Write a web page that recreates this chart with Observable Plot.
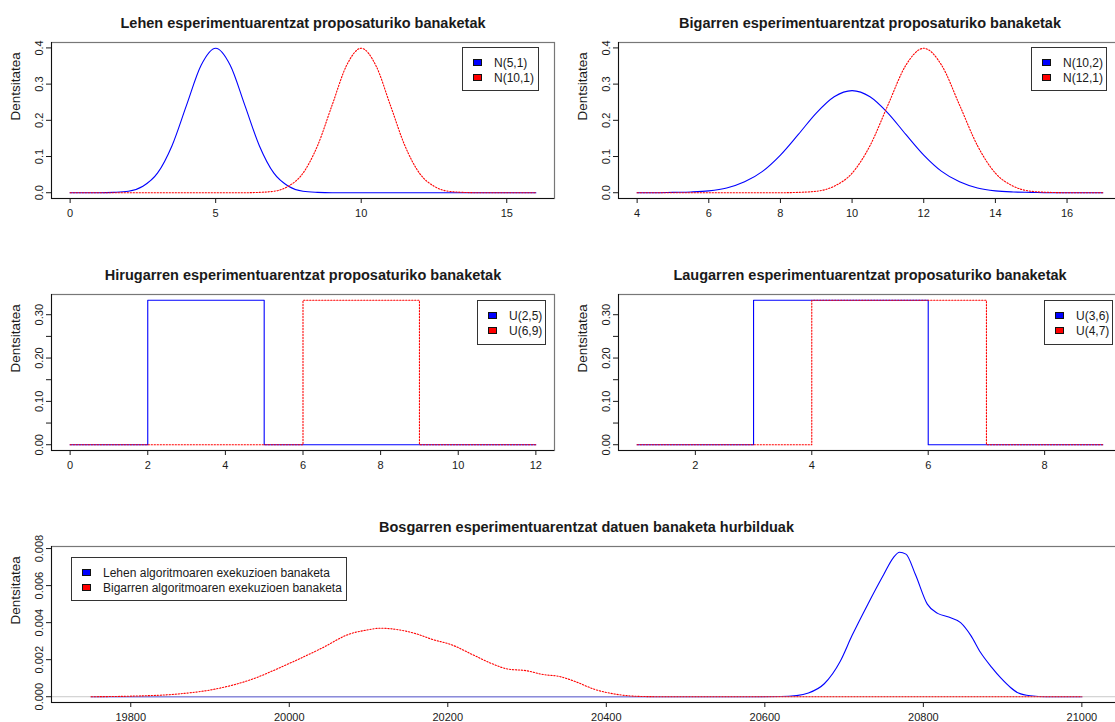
<!DOCTYPE html>
<html>
<head>
<meta charset="utf-8">
<script src="https://cdn.jsdelivr.net/npm/d3@7"></script>
<script src="https://cdn.jsdelivr.net/npm/@observablehq/plot@0.6"></script>
<style>
  html, body { margin: 0; padding: 0; background: #fff; }
  #fig { position: relative; width: 1115px; height: 722px; overflow: hidden; background: #fff;
         font-family: "Liberation Sans", Arial, Helvetica, sans-serif; color: #1a1a1a; }
  .panel { position: absolute; height: 252px; }
  .panel svg { max-width: none !important; }
  .legend { position: absolute; background: #fff; border: 1px solid #333; box-sizing: border-box; }
  .legend .sw { position: absolute; width: 9px; height: 7px; box-sizing: border-box; border: 1px solid #111; }
  .legend .lb { position: absolute; font-size: 12px; line-height: 12px; white-space: nowrap; }
</style>
</head>
<body>
<div id="fig"></div>
<script>
// ---------- Data ----------
// Panel 1
const p1Title = "Lehen esperimentuarentzat proposaturiko banaketak";
const p1X = [0,0.5,1,1.5,2,2.5,3,3.5,4,4.5,5,5.5,6,6.5,7,7.5,8,8.5,9,9.5,10,10.5,11,11.5,12,12.5,13,13.5,14,14.5,15,15.5,16];
const p1Blue = [0,0,0,0.001,0.004,0.018,0.054,0.130,0.242,0.352,0.399,0.352,0.242,0.130,0.054,0.018,0.004,0.001,0,0,0,0,0,0,0,0,0,0,0,0,0,0,0];
const p1Red  = [0,0,0,0,0,0,0,0,0,0,0,0,0,0.001,0.004,0.018,0.054,0.130,0.242,0.352,0.399,0.352,0.242,0.130,0.054,0.018,0.004,0.001,0,0,0,0,0];
const p1Labels = ["N(5,1)", "N(10,1)"];
const p1XTicks = [0,5,10,15];
const p1YTicks = [0,0.1,0.2,0.3,0.4];

// Panel 2
const p2Title = "Bigarren esperimentuarentzat proposaturiko banaketak";
const p2X = [4,4.5,5,5.5,6,6.5,7,7.5,8,8.5,9,9.5,10,10.5,11,11.5,12,12.5,13,13.5,14,14.5,15,15.5,16,16.5,17];
const p2Blue = [0,0,0.001,0.002,0.005,0.013,0.030,0.059,0.104,0.161,0.220,0.265,0.282,0.265,0.220,0.161,0.104,0.059,0.030,0.013,0.005,0.002,0.001,0,0,0,0];
const p2Red  = [0,0,0,0,0,0,0,0,0,0.001,0.004,0.018,0.054,0.130,0.242,0.352,0.399,0.352,0.242,0.130,0.054,0.018,0.004,0.001,0,0,0];
const p2Labels = ["N(10,2)", "N(12,1)"];
const p2XTicks = [4,6,8,10,12,14,16];
const p2YTicks = [0,0.1,0.2,0.3,0.4];

// Panel 3
const p3Title = "Hirugarren esperimentuarentzat proposaturiko banaketak";
const p3BlueX = [0,2,5,12];
const p3BlueY = [0,0.3333,0,0];
const p3RedX = [0,6,9,12];
const p3RedY = [0,0.3333,0,0];
const p3Labels = ["U(2,5)", "U(6,9)"];
const p3XTicks = [0,2,4,6,8,10,12];
const p3YTicks = [0,0.05,0.10,0.15,0.20,0.25,0.30];

// Panel 4
const p4Title = "Laugarren esperimentuarentzat proposaturiko banaketak";
const p4BlueX = [1,3,6,9];
const p4BlueY = [0,0.3333,0,0];
const p4RedX = [1,4,7,9];
const p4RedY = [0,0.3333,0,0];
const p4Labels = ["U(3,6)", "U(4,7)"];
const p4XTicks = [2,4,6,8];
const p4YTicks = [0,0.05,0.10,0.15,0.20,0.25,0.30];

// Panel 5
const p5Title = "Bosgarren esperimentuarentzat datuen banaketa hurbilduak";
const p5BlueX = [19750,20550,20620,20640,20655,20675,20695,20710,20730,20750,20762,20770,20778,20790,20805,20818,20832,20847,20860,20872,20886,20898,20910,20920,20935,20955,21000];
const p5BlueY = [0,0,0.00001,0.00006,0.0002,0.0007,0.0019,0.0033,0.0050,0.0066,0.0075,0.0078,0.0077,0.0066,0.0050,0.0045,0.0043,0.0040,0.0033,0.0024,0.0016,0.0010,0.0005,0.0002,0.00005,0,0];
const p5RedX = [19750,19800,19860,19905,19950,19995,20040,20077,20098,20115,20140,20160,20180,20205,20230,20255,20275,20300,20320,20340,20362,20385,20410,20440,20470,21000];
const p5RedY = [0,0.00003,0.00015,0.0004,0.0009,0.0017,0.0026,0.0034,0.0036,0.0037,0.0036,0.0034,0.0031,0.0028,0.0023,0.0018,0.0015,0.0014,0.0012,0.0011,0.0008,0.0004,0.00015,0.00002,0,0];
const p5Labels = ["Lehen algoritmoaren exekuzioen banaketa", "Bigarren algoritmoaren exekuzioen banaketa"];
const p5XTicks = [19800,20000,20200,20400,20600,20800,21000];
const p5YTicks = [0,0.002,0.004,0.006,0.008];

const yLabel = "Dentsitatea";
const BLUE = "#0000ff", RED = "#ff0000";

// ---------- Helpers ----------
const ext = ([a, b]) => [a - 0.04 * (b - a), b + 0.04 * (b - a)];
const zip = (xs, ys) => xs.map((x, i) => ({x, y: ys[i]}));

function makePanel({left, top, width, title, blue, red, curve, xTicks, yTicks, xFormat, yFormat, zeroLine, legend}) {
  const fig = document.getElementById("fig");
  const div = document.createElement("div");
  div.className = "panel";
  div.style.left = left + "px";
  div.style.top = top + "px";
  div.style.width = width + "px";
  fig.appendChild(div);

  const allX = blue.concat(red).map(d => d.x);
  const allY = blue.concat(red).map(d => d.y);
  const xd = ext(d3.extent(allX));
  const yd = ext([0, d3.max(allY)]);

  const marks = [
    Plot.line(blue, {x: "x", y: "y", stroke: BLUE, strokeWidth: 1.1, curve}),
  ];
  if (zeroLine) marks.push(Plot.ruleY([0], {stroke: "#bdbdbd", strokeWidth: 1, strokeOpacity: 0.8}));
  marks.push(
    Plot.line(red, {x: "x", y: "y", stroke: RED, strokeWidth: 1.1, strokeDasharray: "1.3,1.7", curve}),
    Plot.frame({stroke: "#777", strokeWidth: 1.2}),
    Plot.ruleX([xd[0]], {stroke: "#111"}),
    Plot.ruleY([yd[0]], {stroke: "#111"}),
    Plot.axisX({ticks: xTicks, tickSize: 5, tickPadding: 6, tickFormat: xFormat, fontSize: 11, label: null}),
    Plot.axisY({ticks: yTicks, tickSize: 5, tickRotate: -90, tickPadding: 4, tickFormat: yFormat, fontSize: 11, label: null}),
    Plot.text([yLabel], {frameAnchor: "left", rotate: -90, dx: -36, fontSize: 13.5}),
    Plot.text([title], {frameAnchor: "top", dy: -25, fontSize: 14.5, fontWeight: "bold"})
  );

  const svg = Plot.plot({
    width, height: 252,
    marginLeft: 51, marginRight: 13, marginTop: 42, marginBottom: 54,
    x: {domain: xd},
    y: {domain: yd},
    style: {fontFamily: '"Liberation Sans", Arial, Helvetica, sans-serif', color: "#1a1a1a", background: "transparent", overflow: "visible", maxWidth: "none"},
    marks
  });
  div.appendChild(svg);

  // legend
  const lg = document.createElement("div");
  lg.className = "legend";
  lg.style.left = legend.left + "px";
  lg.style.top = legend.top + "px";
  lg.style.width = legend.width + "px";
  lg.style.height = legend.height + "px";
  legend.labels.forEach((lab, i) => {
    const sw = document.createElement("div");
    sw.className = "sw";
    sw.style.left = "10px";
    sw.style.top = (11 + i * 15) + "px";
    sw.style.background = i === 0 ? BLUE : RED;
    lg.appendChild(sw);
    const tx = document.createElement("div");
    tx.className = "lb";
    tx.style.left = "31px";
    tx.style.top = (9 + i * 15) + "px";
    tx.textContent = lab;
    lg.appendChild(tx);
  });
  div.appendChild(lg);
}

const f1 = d3.format(".1f"), f2 = d => (Math.round(d * 100) % 10 === 0 ? d3.format(".2f")(d) : ""), f3 = d3.format(".3f"), fi = d3.format("d");

makePanel({left: 0, top: 0, width: 567, title: p1Title,
  blue: zip(p1X, p1Blue), red: zip(p1X, p1Red), curve: "monotone-x",
  xTicks: p1XTicks, yTicks: p1YTicks, xFormat: fi, yFormat: f1,
  legend: {left: 462, top: 47, width: 77, height: 44, labels: p1Labels}});

makePanel({left: 567, top: 0, width: 567, title: p2Title,
  blue: zip(p2X, p2Blue), red: zip(p2X, p2Red), curve: "monotone-x",
  xTicks: p2XTicks, yTicks: p2YTicks, xFormat: fi, yFormat: f1,
  legend: {left: 464, top: 47, width: 76, height: 44, labels: p2Labels}});

makePanel({left: 0, top: 252, width: 567, title: p3Title,
  blue: zip(p3BlueX, p3BlueY), red: zip(p3RedX, p3RedY), curve: "step-after",
  xTicks: p3XTicks, yTicks: p3YTicks, xFormat: fi, yFormat: f2,
  legend: {left: 477, top: 48, width: 69, height: 45, labels: p3Labels}});

makePanel({left: 567, top: 252, width: 567, title: p4Title,
  blue: zip(p4BlueX, p4BlueY), red: zip(p4RedX, p4RedY), curve: "step-after",
  xTicks: p4XTicks, yTicks: p4YTicks, xFormat: fi, yFormat: f2,
  legend: {left: 477, top: 48, width: 69, height: 45, labels: p4Labels}});

makePanel({left: 0, top: 504, width: 1134, title: p5Title,
  blue: zip(p5BlueX, p5BlueY), red: zip(p5RedX, p5RedY), curve: "monotone-x",
  xTicks: p5XTicks, yTicks: p5YTicks, xFormat: fi, yFormat: f3, zeroLine: true,
  legend: {left: 71, top: 53, width: 276, height: 44, labels: p5Labels}});
</script>
</body>
</html>
